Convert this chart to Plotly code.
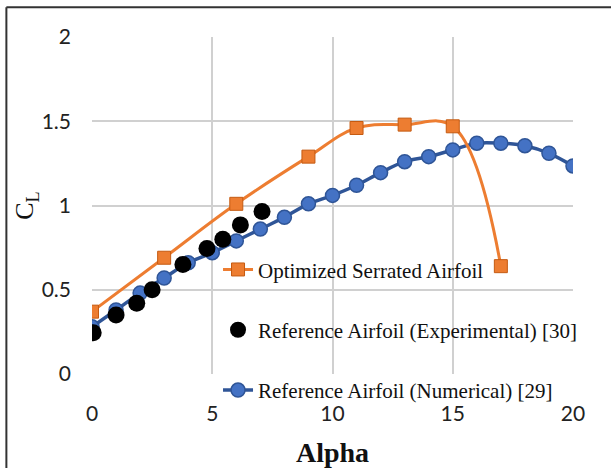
import plotly.graph_objects as go

# Data
alpha_opt = [0, 3, 6, 9, 11, 13, 15, 17]
cl_opt = [0.37, 0.69, 1.01, 1.29, 1.46, 1.48, 1.47, 0.64]

alpha_exp = [0.05, 1.0, 1.86, 2.5, 3.78, 4.78, 5.44, 6.17, 7.07]
cl_exp = [0.245, 0.35, 0.42, 0.50, 0.65, 0.745, 0.80, 0.885, 0.965]

alpha_num = list(range(0, 21))
cl_num = [0.28, 0.38, 0.48, 0.57, 0.66, 0.72, 0.79, 0.86, 0.93, 1.01, 1.06,
          1.12, 1.195, 1.26, 1.29, 1.33, 1.37, 1.37, 1.355, 1.31, 1.235]

x_ticks = [0, 5, 10, 15, 20]
y_ticks = [0, 0.5, 1, 1.5, 2]
y_tick_labels = ["0", "0.5", "1", "1.5", "2"]

names = ["Optimized Serrated Airfoil",
         "Reference Airfoil (Experimental) [30]",
         "Reference Airfoil (Numerical) [29]"]

SERIF = "Liberation Serif"

fig = go.Figure()

fig.add_trace(go.Scatter(
    x=alpha_num, y=cl_num, name=names[2], mode="lines+markers",
    line=dict(color="#2F5597", width=3.5, shape="spline", smoothing=1),
    marker=dict(symbol="circle", size=14, color="#4472C4",
                line=dict(color="#2F5597", width=1.5)),
    legendgroup="c", legendrank=3,
))
fig.add_trace(go.Scatter(
    x=alpha_exp, y=cl_exp, name=names[1], mode="markers",
    marker=dict(symbol="circle", size=17, color="black"),
    legendgroup="b", legendrank=2,
))
fig.add_trace(go.Scatter(
    x=alpha_opt, y=cl_opt, name=names[0], mode="lines+markers",
    line=dict(color="#ED7D31", width=3, shape="spline", smoothing=1.1),
    marker=dict(symbol="square", size=13, color="#ED7D31",
                line=dict(color="#C55A11", width=1)),
    legendgroup="a", legendrank=1,
))

tick_font = dict(family="Lato, Liberation Sans, sans-serif", size=21, color="#222222")

fig.update_layout(
    width=611, height=468,
    margin=dict(l=92, r=38, t=37, b=94, autoexpand=False),
    paper_bgcolor="white", plot_bgcolor="white",
    showlegend=True,
    legend=dict(
        x=0.262, y=0.37, xanchor="left", yanchor="top",
        bgcolor="rgba(0,0,0,0)",
        font=dict(family=SERIF, size=21, color="#111111"),
        tracegroupgap=30,
        traceorder="grouped",
    ),
    xaxis=dict(
        range=[0, 20], tickvals=x_ticks, ticktext=[str(v) for v in x_ticks],
        showgrid=True, gridcolor="#D0D0D0", gridwidth=1.5,
        zeroline=False, showline=False, automargin=False,
        tickfont=tick_font, ticklabelstandoff=25,
        title=dict(text="<b>Alpha</b>", standoff=19,
                   font=dict(family=SERIF, size=28, color="#111111")),
    ),
    yaxis=dict(
        range=[0, 2], tickvals=y_ticks, ticktext=y_tick_labels,
        showgrid=True, gridcolor="#D0D0D0", gridwidth=1.5,
        zeroline=False, showline=False, automargin=False,
        tickfont=tick_font, ticklabelstandoff=20,
        title=dict(text="C<sub>L</sub>", standoff=0,
                   font=dict(family=SERIF, size=26, color="#111111")),
    ),
    shapes=[
        dict(type="line", xref="paper", yref="paper", x0=-0.178, x1=1.2, y0=1.088, y1=1.088,
             line=dict(color="#333333", width=2)),
        dict(type="line", xref="paper", yref="paper", x0=-0.178, x1=-0.178, y0=1.088, y1=-0.4,
             line=dict(color="#333333", width=2)),
    ],
)

fig.write_html("out.html")
